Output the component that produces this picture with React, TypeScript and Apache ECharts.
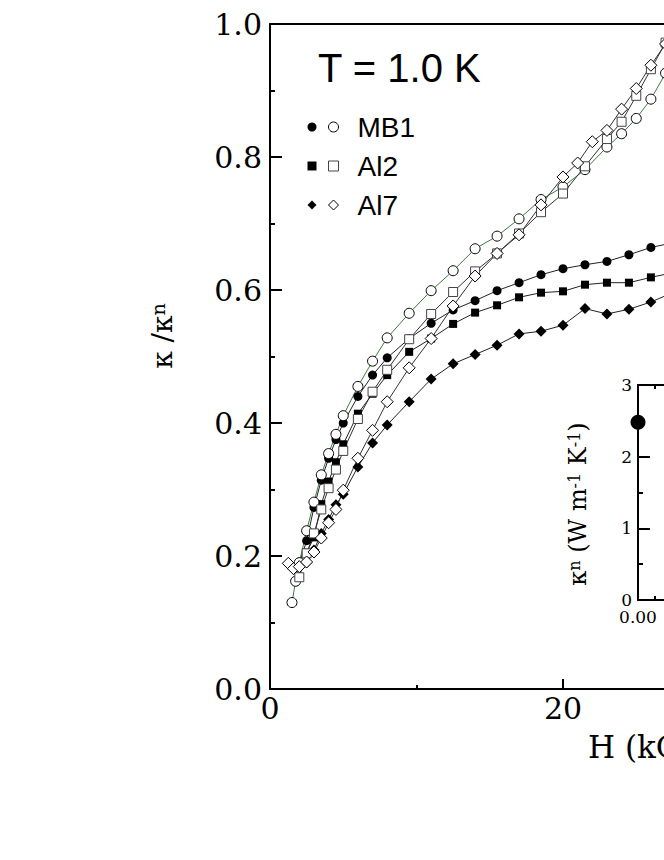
import React, { useEffect, useRef } from "react";
import * as echarts from "echarts";

// ---------- data ----------
const H_MB1_FILLED = [2.0, 2.5, 3.0, 3.5, 4.0, 4.5, 5, 6, 7, 8, 9.5, 11, 12.5, 14, 15.5, 17, 18.5, 20, 21.5, 23, 24.5, 26, 27.5];
const K_MB1_FILLED = [0.189, 0.223, 0.273, 0.314, 0.347, 0.375, 0.4, 0.44, 0.472, 0.498, 0.527, 0.55, 0.57, 0.584, 0.599, 0.611, 0.623, 0.632, 0.638, 0.643, 0.653, 0.664, 0.671];

const H_MB1_OPEN = [1.5, 1.75, 2.0, 2.5, 3.0, 3.5, 4.0, 4.5, 5, 6, 7, 8, 9.5, 11, 12.5, 14, 15.5, 17, 18.5, 20, 21.5, 23, 24, 25, 26, 27, 28];
const K_MB1_OPEN = [0.13, 0.162, 0.19, 0.238, 0.281, 0.322, 0.354, 0.383, 0.411, 0.455, 0.493, 0.528, 0.565, 0.599, 0.629, 0.662, 0.681, 0.707, 0.736, 0.755, 0.781, 0.815, 0.835, 0.858, 0.887, 0.926, 0.962];

const H_AL2_FILLED = [2.5, 3.0, 3.5, 4.0, 4.5, 5, 6, 7, 8, 9.5, 11, 12.5, 14, 15.5, 17, 18.5, 20, 21.5, 23, 24.5, 26, 27.5];
const K_AL2_FILLED = [0.205, 0.228, 0.278, 0.312, 0.341, 0.368, 0.414, 0.444, 0.472, 0.507, 0.527, 0.549, 0.566, 0.577, 0.589, 0.596, 0.598, 0.608, 0.611, 0.611, 0.619, 0.626];

const H_AL2_OPEN = [2.0, 2.5, 3.0, 3.5, 4.0, 4.5, 5, 6, 7, 8, 9.5, 11, 12.5, 14, 15.5, 17, 18.5, 20, 21.5, 23, 24, 25, 26, 27];
const K_AL2_OPEN = [0.168, 0.204, 0.234, 0.27, 0.302, 0.33, 0.358, 0.406, 0.447, 0.48, 0.526, 0.564, 0.597, 0.628, 0.655, 0.685, 0.717, 0.745, 0.786, 0.827, 0.853, 0.892, 0.932, 0.972];

const H_AL7_FILLED = [2.5, 3.0, 3.5, 4.0, 4.5, 5, 6, 7, 8, 9.5, 11, 12.5, 14, 15.5, 17, 18.5, 20, 21.5, 23, 24.5, 26, 27.5];
const K_AL7_FILLED = [0.19, 0.209, 0.234, 0.255, 0.277, 0.293, 0.334, 0.37, 0.397, 0.432, 0.466, 0.489, 0.503, 0.517, 0.534, 0.538, 0.547, 0.572, 0.564, 0.571, 0.582, 0.596];

const H_AL7_OPEN = [1.25, 1.6, 2.0, 2.5, 3.0, 3.5, 4.0, 4.5, 5, 6, 7, 8, 9.5, 11, 12.5, 14, 15.5, 17, 18.5, 20, 21, 22, 23, 24, 25, 26, 27];
const K_AL7_OPEN = [0.189, 0.181, 0.184, 0.191, 0.206, 0.227, 0.25, 0.27, 0.299, 0.347, 0.389, 0.432, 0.483, 0.527, 0.576, 0.621, 0.655, 0.683, 0.728, 0.77, 0.791, 0.823, 0.84, 0.872, 0.903, 0.938, 0.97];

// inset: normal-state conductivity
const INSET_X = [0.0];
const INSET_KN = [2.48];

const SAMPLE_NAMES = ["MB1", "Al2", "Al7"];
const FILLED_NAMES = ["MB1 (filled)", "Al2 (filled)", "Al7 (filled)"];
const TEMPERATURE_LABEL = "T = 1.0 K";

const pairs = (xs: number[], ys: number[]) => xs.map((x, i) => [x, ys[i]]);

export default function App() {
  const ref = useRef<HTMLDivElement>(null);

  useEffect(() => {
    if (!ref.current) return;
    const chart = echarts.init(ref.current, null, { renderer: "svg" });
    const serif = "DejaVu Serif";
    const sans = "Liberation Sans";
    const black = "#000";

    const axisLine = { show: true, onZero: false, lineStyle: { color: black, width: 2 } };

    const lineSeries = (
      name: string,
      xs: number[],
      ys: number[],
      symbol: string,
      size: number | number[],
      filled: boolean,
      lineColor: string,
      borderColor = black
    ) => ({
      name,
      type: "line",
      xAxisIndex: 0,
      yAxisIndex: 0,
      data: pairs(xs, ys),
      symbol,
      symbolSize: size,
      showSymbol: true,
      lineStyle: { color: lineColor, width: 1 },
      itemStyle: filled
        ? { color: black, opacity: 1 }
        : { color: "#fff", borderColor, borderWidth: 1, opacity: 1 },
      emphasis: { disabled: true },
    });

    const option: any = {
      animation: false,
      backgroundColor: "#fff",
      grid: [
        { left: 270, top: 24, width: 586, height: 665 },
        { left: 638, top: 385, width: 68, height: 215 },
      ],
      xAxis: [
        {
          gridIndex: 0,
          type: "value",
          min: 0,
          max: 40,
          interval: 20,
          position: "bottom",
          axisLine,
          axisTick: { show: true, inside: true, length: 10, lineStyle: { color: black, width: 2 } },
          minorTick: { show: true, splitNumber: 2, length: 4, lineStyle: { color: black, width: 2 } },
          axisLabel: { showMaxLabel: false, margin: 4, fontFamily: serif, fontSize: 30, color: black },
          splitLine: { show: false },
        },
        {
          gridIndex: 0,
          type: "value",
          min: 0,
          max: 40,
          position: "top",
          axisLine,
          axisTick: { show: false },
          axisLabel: { show: false },
          splitLine: { show: false },
        },
        {
          gridIndex: 1,
          type: "value",
          min: 0,
          max: 0.04,
          interval: 0.04,
          position: "bottom",
          axisLine,
          axisTick: { show: true, inside: true, length: 10, lineStyle: { color: black, width: 2 } },
          minorTick: { show: true, splitNumber: 4, length: 4, lineStyle: { color: black, width: 2 } },
          axisLabel: {
            showMaxLabel: false,
            margin: 10,
            fontFamily: serif,
            fontSize: 17,
            lineHeight: 14,
            color: black,
            formatter: (v: number) => v.toFixed(2),
          },
          splitLine: { show: false },
        },
        {
          gridIndex: 1,
          type: "value",
          min: 0,
          max: 0.04,
          interval: 0.04,
          position: "top",
          axisLine,
          axisTick: { show: true, inside: true, length: 10, lineStyle: { color: black, width: 2 } },
          minorTick: { show: true, splitNumber: 4, length: 4, lineStyle: { color: black, width: 2 } },
          axisLabel: { show: false },
          splitLine: { show: false },
        },
      ],
      yAxis: [
        {
          gridIndex: 0,
          type: "value",
          min: 0,
          max: 1,
          interval: 0.2,
          axisLine,
          axisTick: { show: true, inside: true, length: 12, lineStyle: { color: black, width: 2 } },
          minorTick: { show: true, splitNumber: 2, length: 5, lineStyle: { color: black, width: 2 } },
          axisLabel: {
            margin: 8,
            fontFamily: serif,
            fontSize: 30,
            color: black,
            formatter: (v: number) => v.toFixed(1),
          },
          splitLine: { show: false },
        },
        {
          gridIndex: 1,
          type: "value",
          min: 0,
          max: 3,
          interval: 1,
          axisLine,
          axisTick: { show: true, inside: true, length: 12, lineStyle: { color: black, width: 2 } },
          minorTick: { show: true, splitNumber: 2, length: 5, lineStyle: { color: black, width: 2 } },
          axisLabel: { margin: 6, fontFamily: serif, fontSize: 17, lineHeight: 14, color: black },
          splitLine: { show: false },
        },
      ],
      legend: [
        {
          orient: "vertical",
          left: 307.5,
          top: 122.5,
          padding: 0,
          itemWidth: 9,
          itemHeight: 9,
          itemGap: 30,
          selectedMode: false,
          formatter: () => "",
          textStyle: { fontSize: 9, lineHeight: 9 },
          data: [
            { name: FILLED_NAMES[0], icon: "circle" },
            { name: FILLED_NAMES[1], icon: "rect" },
            { name: FILLED_NAMES[2], icon: "diamond" },
          ],
        },
        {
          orient: "vertical",
          left: 328,
          top: 112,
          padding: 0,
          itemWidth: 10,
          itemHeight: 10,
          itemGap: 9,
          selectedMode: false,
          itemStyle: { borderWidth: 1 },
          textStyle: { fontFamily: sans, fontSize: 28, lineHeight: 30, color: black, padding: [0, 0, 0, 14] },
          data: [
            { name: SAMPLE_NAMES[0], icon: "circle" },
            { name: SAMPLE_NAMES[1], icon: "rect" },
            { name: SAMPLE_NAMES[2], icon: "diamond" },
          ],
        },
      ],
      graphic: [
        {
          type: "text",
          x: 318,
          y: 68,
          style: { text: TEMPERATURE_LABEL, fontFamily: sans, fontSize: 40, fill: black, align: "left", verticalAlign: "middle" },
        },
        {
          type: "text",
          x: 162,
          y: 336,
          rotation: Math.PI / 2,
          style: {
            text: "{a|κ /κ}{s|n}",
            align: "center",
            verticalAlign: "middle",
            fill: black,
            rich: {
              a: { fontFamily: serif, fontSize: 28, fill: black },
              s: { fontFamily: serif, fontSize: 19, fill: black, verticalAlign: "top" },
            },
          },
        },
        {
          type: "text",
          x: 588,
          y: 747,
          style: { text: "H (kOe)", fontFamily: serif, fontSize: 31, fill: black, align: "left", verticalAlign: "middle" },
        },
        {
          type: "text",
          x: 578,
          y: 504,
          rotation: Math.PI / 2,
          style: {
            text: "{a|κ}{s|n}{a| (W m}{s|-1}{a| K}{s|-1}{a|)}",
            align: "center",
            verticalAlign: "middle",
            fill: black,
            rich: {
              a: { fontFamily: serif, fontSize: 24, fill: black },
              s: { fontFamily: serif, fontSize: 16, fill: black, verticalAlign: "top" },
            },
          },
        },
      ],
      series: [
        lineSeries(FILLED_NAMES[0], H_MB1_FILLED, K_MB1_FILLED, "circle", 9, true, "#222"),
        lineSeries(FILLED_NAMES[1], H_AL2_FILLED, K_AL2_FILLED, "rect", 8, true, "#222"),
        lineSeries(FILLED_NAMES[2], H_AL7_FILLED, K_AL7_FILLED, "diamond", 11, true, "#222"),
        lineSeries(SAMPLE_NAMES[0], H_MB1_OPEN, K_MB1_OPEN, "circle", 10, false, "#3a7d3a"),
        lineSeries(SAMPLE_NAMES[1], H_AL2_OPEN, K_AL2_OPEN, "rect", 9, false, "#333", "#444"),
        lineSeries(SAMPLE_NAMES[2], H_AL7_OPEN, K_AL7_OPEN, "diamond", 12, false, "#333"),
        {
          name: "inset",
          type: "scatter",
          xAxisIndex: 2,
          yAxisIndex: 1,
          data: pairs(INSET_X, INSET_KN),
          symbol: "circle",
          symbolSize: 15,
          itemStyle: { color: black, opacity: 1 },
          clip: false,
          emphasis: { disabled: true },
        },
      ],
    };

    chart.setOption(option);
    return () => chart.dispose();
  }, []);

  return (
    <div
      style={{
        position: "fixed",
        left: 0,
        top: 0,
        width: 664,
        height: 860,
        overflow: "hidden",
        background: "#fff",
      }}
    >
      <div ref={ref} style={{ width: 1000, height: 860 }} />
    </div>
  );
}
